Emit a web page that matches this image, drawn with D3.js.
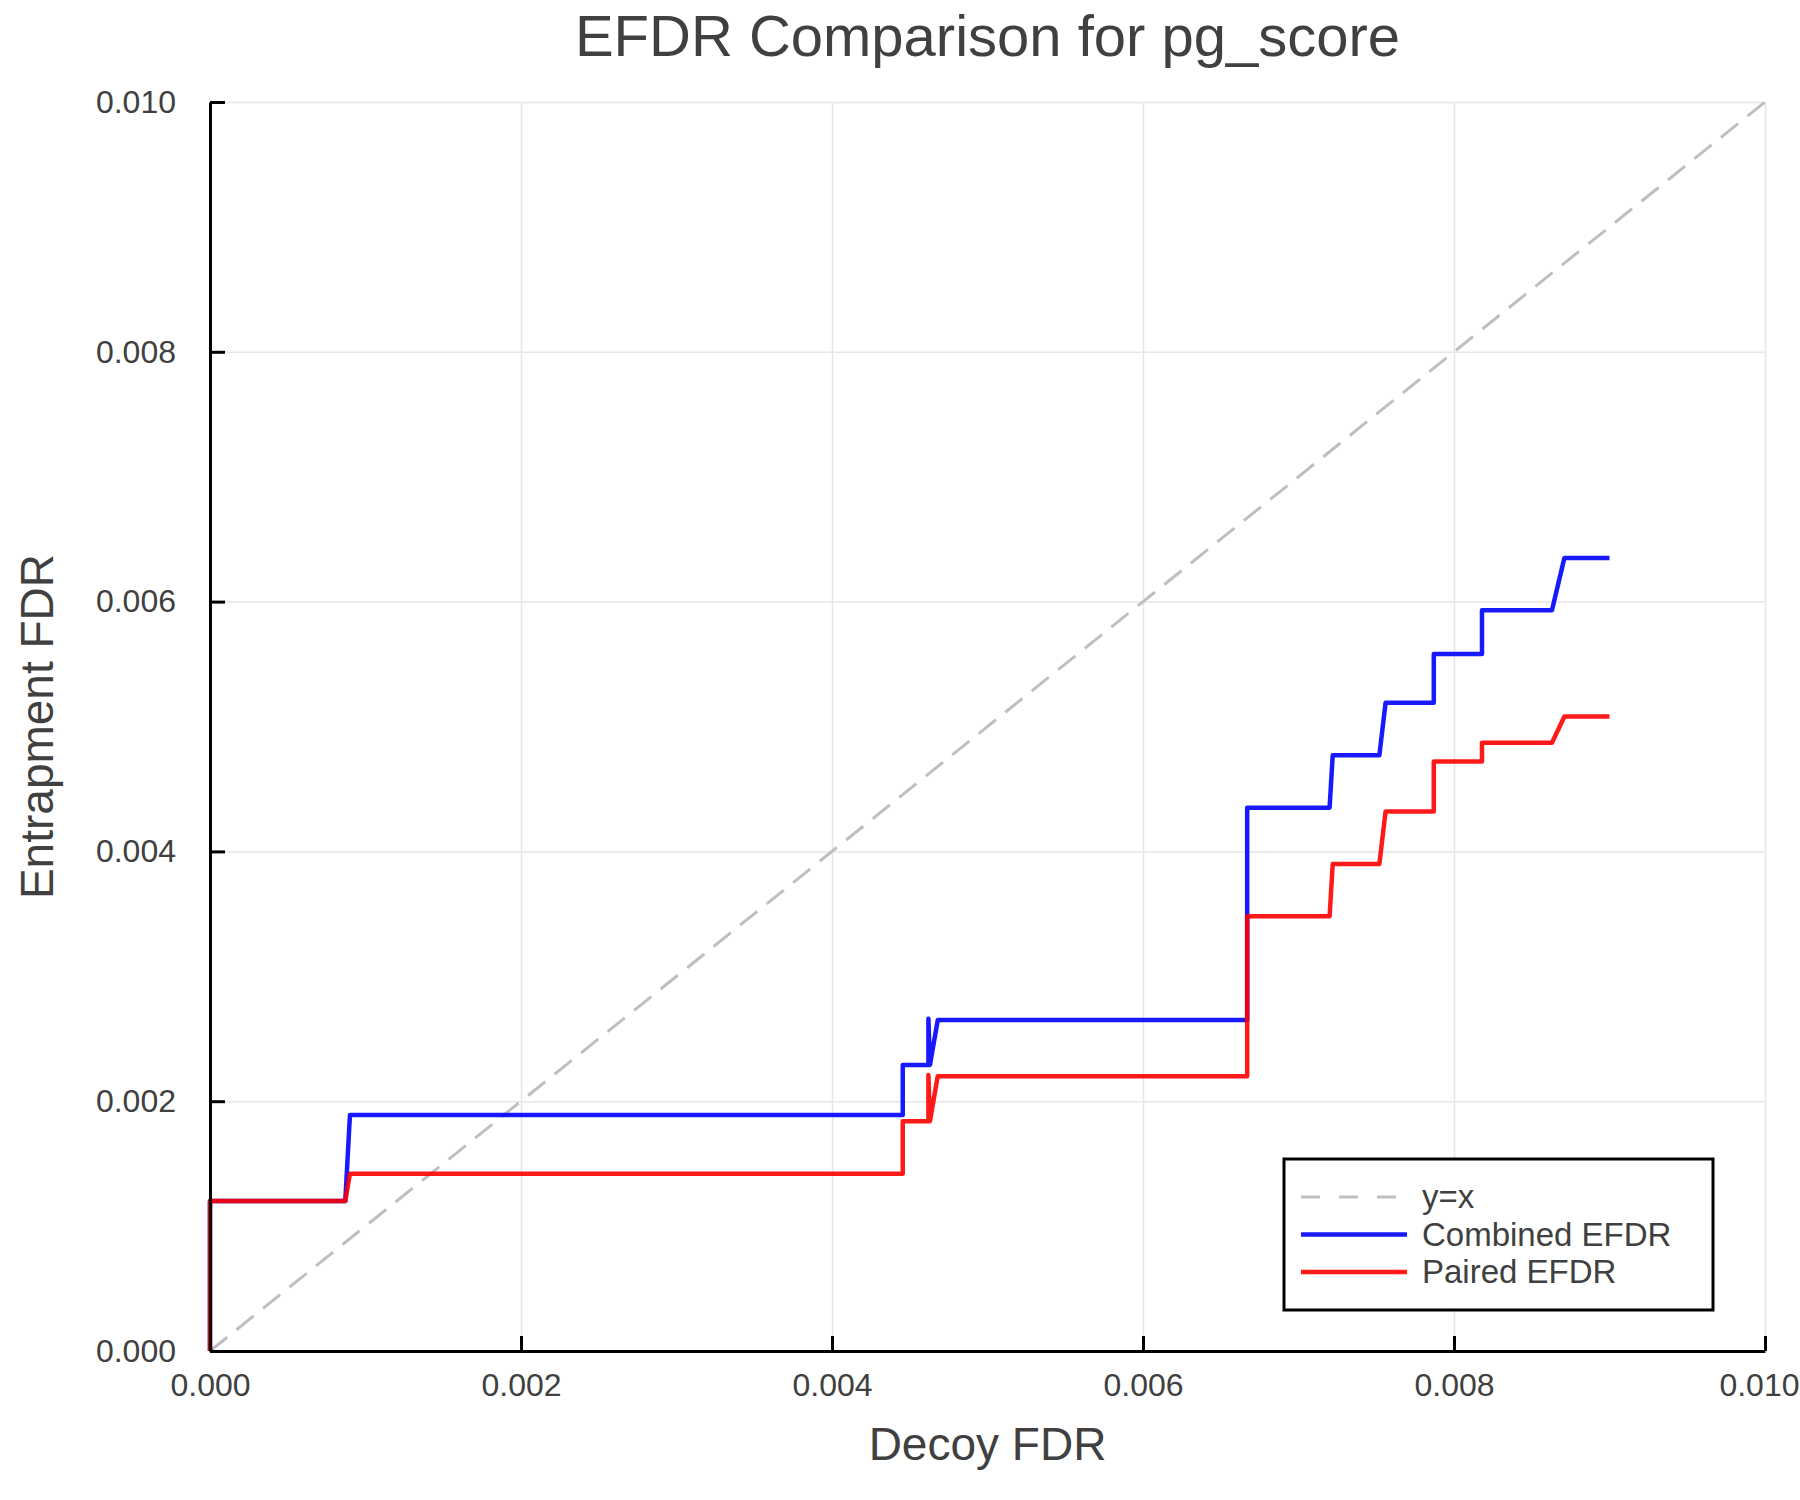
<!DOCTYPE html>
<html>
<head>
<meta charset="utf-8">
<script src="https://cdn.jsdelivr.net/npm/d3@7"></script>
<style>
  body { margin: 0; background: #fff; }
  text { font-family: "Liberation Sans", Helvetica, Arial, sans-serif; fill: #404040; }
</style>
</head>
<body>
<script>
  // curve points
  const combinedX = [0, 0, 0.00087, 0.0009, 0.004455, 0.004455, 0.00462, 0.00462, 0.00463, 0.00468, 0.00667, 0.00667, 0.0072, 0.00722, 0.00752, 0.00756, 0.00787, 0.00787, 0.00818, 0.00818, 0.00863, 0.00871, 0.0090];
  const combinedY = [0, 0.0012, 0.0012, 0.00189, 0.00189, 0.00229, 0.00229, 0.00266, 0.00229, 0.00265, 0.00265, 0.00435, 0.00435, 0.00477, 0.00477, 0.00519, 0.00519, 0.00558, 0.00558, 0.00593, 0.00593, 0.00635, 0.00635];
  const pairedX = [0, 0, 0.00087, 0.0009, 0.004455, 0.004455, 0.00462, 0.00462, 0.00463, 0.00468, 0.00667, 0.00667, 0.0072, 0.00722, 0.00752, 0.00756, 0.00787, 0.00787, 0.00818, 0.00818, 0.00863, 0.00871, 0.0090];
  const pairedY = [0, 0.0012, 0.0012, 0.00142, 0.00142, 0.00184, 0.00184, 0.00221, 0.00184, 0.0022, 0.0022, 0.00348, 0.00348, 0.0039, 0.0039, 0.00432, 0.00432, 0.00472, 0.00472, 0.00487, 0.00487, 0.00508, 0.00508];
  const diagX = [0, 0.010];
  const tickValues = [0, 0.002, 0.004, 0.006, 0.008, 0.010];
  const seriesNames = ['y=x', 'Combined EFDR', 'Paired EFDR'];

  const w = 1800;
  const h = 1500;
  const margin = { top: 102, right: 35, bottom: 149, left: 210 };
  const pw = w - margin.left - margin.right;
  const ph = h - margin.top - margin.bottom;

  const svg = d3.select('body').append('svg')
    .attr('width', w)
    .attr('height', h);

  const x = d3.scaleLinear().domain([0, 0.010]).range([margin.left, margin.left + pw]);
  const y = d3.scaleLinear().domain([0, 0.010]).range([margin.top + ph, margin.top]);

  // grid
  svg.append('g')
    .attr('transform', 'translate(0,' + (margin.top + ph) + ')')
    .call(d3.axisBottom(x).tickValues(tickValues).tickSize(-ph).tickFormat(''))
    .call(g => g.select('.domain').remove())
    .call(g => g.selectAll('line').attr('stroke', '#e6e6e6').attr('stroke-width', 1.5));
  svg.append('g')
    .attr('transform', 'translate(' + margin.left + ',0)')
    .call(d3.axisLeft(y).tickValues(tickValues).tickSize(-pw).tickFormat(''))
    .call(g => g.select('.domain').remove())
    .call(g => g.selectAll('line').attr('stroke', '#e6e6e6').attr('stroke-width', 1.5));

  const line = d3.line().x(d => x(d[0])).y(d => y(d[1]));

  svg.append('path')
    .datum(diagX.map(v => [v, v]))
    .attr('d', line)
    .attr('fill', 'none')
    .attr('stroke', '#bfbfbf')
    .attr('stroke-width', 3)
    .attr('stroke-dasharray', '22,12');

  const series = [
    { xs: combinedX, ys: combinedY, color: '#0000ff' },
    { xs: pairedX, ys: pairedY, color: '#ff0000' }
  ];
  series.forEach(s => {
    svg.append('path')
      .datum(s.xs.map((v, i) => [v, s.ys[i]]))
      .attr('d', line)
      .attr('fill', 'none')
      .attr('stroke', s.color)
      .attr('stroke-opacity', 0.9)
      .attr('stroke-width', 4.5)
      .attr('stroke-linejoin', 'round');
  });

  // axes
  const fmt = d3.format('.3f');
  const xAxis = svg.append('g')
    .attr('transform', 'translate(0,' + (margin.top + ph) + ')')
    .call(d3.axisBottom(x).tickValues(tickValues).tickFormat(fmt).tickSizeInner(-15).tickSizeOuter(0).tickPadding(22));
  const yAxis = svg.append('g')
    .attr('transform', 'translate(' + margin.left + ',0)')
    .call(d3.axisLeft(y).tickValues(tickValues).tickFormat(fmt).tickSizeInner(-15).tickSizeOuter(0).tickPadding(34));
  [xAxis, yAxis].forEach(g => {
    g.select('.domain').attr('stroke', '#000').attr('stroke-width', 3);
    g.selectAll('.tick line').attr('stroke', '#000').attr('stroke-width', 3);
    g.selectAll('.tick text').attr('font-size', 32).attr('fill', '#404040')
      .attr('font-family', '"Liberation Sans", Helvetica, Arial, sans-serif');
  });
  // keep the last x label inside the page edge
  xAxis.selectAll('.tick text').filter(d => d === 0.010)
    .attr('text-anchor', 'end')
    .attr('x', w - x(0.010) - 1);

  // titles
  svg.append('text')
    .attr('x', margin.left + pw / 2)
    .attr('y', 56)
    .attr('text-anchor', 'middle')
    .attr('font-size', 58)
    .text('EFDR Comparison for pg_score');
  svg.append('text')
    .attr('x', margin.left + pw / 2)
    .attr('y', 1460)
    .attr('text-anchor', 'middle')
    .attr('font-size', 46)
    .text('Decoy FDR');
  svg.append('text')
    .attr('transform', 'translate(53,' + (margin.top + ph / 2) + ') rotate(-90)')
    .attr('text-anchor', 'middle')
    .attr('font-size', 46)
    .text('Entrapment FDR');

  // legend
  const legend = svg.append('g').attr('transform', 'translate(1284,1159)');
  legend.append('rect')
    .attr('width', 429)
    .attr('height', 151)
    .attr('fill', '#fff')
    .attr('stroke', '#000')
    .attr('stroke-width', 3);
  const legendStyles = [
    { color: '#bfbfbf', dash: '19,19', width: 3 },
    { color: '#0000ff', dash: null, width: 4.5 },
    { color: '#ff0000', dash: null, width: 4.5 }
  ];
  seriesNames.forEach((name, i) => {
    const yy = 38 + i * 37.5;
    legend.append('line')
      .attr('x1', 17).attr('x2', 123)
      .attr('y1', yy).attr('y2', yy)
      .attr('stroke', legendStyles[i].color)
      .attr('stroke-opacity', i ? 0.9 : 1)
      .attr('stroke-width', legendStyles[i].width)
      .attr('stroke-dasharray', legendStyles[i].dash);
    legend.append('text')
      .attr('x', 138)
      .attr('y', yy + 11)
      .attr('font-size', 33)
      .text(name);
  });
</script>
</body>
</html>
